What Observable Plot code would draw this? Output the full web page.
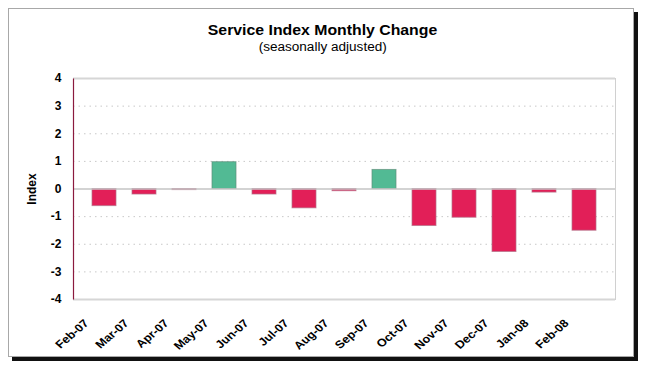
<!DOCTYPE html>
<html>
<head>
<meta charset="utf-8">
<script src="https://cdn.jsdelivr.net/npm/d3@7"></script>
<script src="https://cdn.jsdelivr.net/npm/@observablehq/plot@0.6"></script>
<style>
  html, body { margin: 0; padding: 0; background: #fff; }
  #wrap { position: relative; width: 645px; height: 369px; overflow: hidden; background: #fff;
          font-family: "Liberation Sans", Arial, sans-serif; }
  #frame { position: absolute; left: 8px; top: 8px; width: 624px; height: 347px;
           border: 1px solid #a8a8a8; background: #fff; box-shadow: 4px 4px 0 0 #111; }
  .hdr { position: absolute; left: 0; width: 645px; text-align: center; color: #000; }
  .hdr span { display: inline-block; transform: scaleX(1.13); transform-origin: center; white-space: nowrap; }
  #title { top: 22px; font-weight: bold; font-size: 14px; }
  #subtitle { top: 40px; font-size: 12px; }
  #chart { position: absolute; left: 0; top: 60px; }
</style>
</head>
<body>
<div id="wrap">
  <div id="frame"></div>
  <div id="title" class="hdr"><span>Service Index Monthly Change</span></div>
  <div id="subtitle" class="hdr"><span>(seasonally adjusted)</span></div>
  <div id="chart"></div>
</div>
<script>
const months = ["Feb-07","Mar-07","Apr-07","May-07","Jun-07","Jul-07","Aug-07","Sep-07","Oct-07","Nov-07","Dec-07","Jan-08","Feb-08"];
const values = [-0.62, -0.2, -0.04, 0.97, -0.2, -0.7, -0.08, 0.69, -1.34, -1.04, -2.28, -0.13, -1.51];
const yTicks = [-4, -3, -2, -1, 0, 1, 2, 3, 4];
const dottedTicks = [-3, -2, -1, 1, 2, 3];
const edgeTicks = [-4, 4];

const data = months.map((m, i) => ({month: m, value: values[i]}));

const W = 645, H = 309, mT = 18, mB = 70, mL = 73, mR = 30;
const fw = W - mL - mR, fh = H - mT - mB;

const chart = Plot.plot({
  width: W,
  height: H,
  marginTop: mT,
  marginBottom: mB,
  marginLeft: mL,
  marginRight: mR,
  style: {background: "transparent", fontFamily: "'Liberation Sans', Arial, sans-serif", fontSize: "11px", fontWeight: "bold", color: "#000"},
  x: {type: "band", domain: months, padding: 0.4, label: null},
  y: {domain: [-4, 4], label: null},
  marks: [
    Plot.frame({stroke: "#d0d0d0", strokeWidth: 1}),
    Plot.ruleY(dottedTicks, {stroke: "#c8c8c8", strokeDasharray: "1.5,4", strokeWidth: 1}),
    Plot.ruleY(edgeTicks, {stroke: "#d6d6d6", strokeWidth: 2}),
    Plot.barY(data, {x: "month", y: "value", fill: d => d.value >= 0 ? "#52BA94" : "#E21F58", stroke: d => d.value >= 0 ? "#5f8f7c" : "#b07088", strokeWidth: 1, strokeOpacity: 0.7}),
    Plot.ruleY([0], {stroke: "#c4c4c4", strokeWidth: 1.5}),
    // left axis line (only the left edge of the frame is stroked)
    Plot.frame({stroke: "#8B1A3E", strokeWidth: 1.2, strokeDasharray: `0 ${2 * fw + fh} ${fh} 0`}),
    Plot.axisY({ticks: yTicks, tickSize: 0, tickPadding: 12, tickFormat: d => String(d), fontSize: 12, fontWeight: "bold",
      label: "Index", labelAnchor: "center", labelArrow: "none", labelOffset: 46, ariaLabel: "y-axis"}),
    Plot.axisX({tickSize: 0, tickRotate: -45, tickPadding: 6, dx: -18, dy: 16, fontSize: 11, fontWeight: "bold", label: null, ariaLabel: "x-axis"})
  ]
});
document.getElementById("chart").appendChild(chart);

// horizontally stretch the tick text slightly, as in the reference rendering
d3.select(chart).selectAll('g[aria-label="x-axis tick label"] text').each(function() {
  const t = this.getAttribute("transform") || "";
  const m = t.match(/translate\(([^)]*)\)/);
  if (m) this.setAttribute("transform", `translate(${m[1]}) scale(1.15,1) rotate(-45)`);
});
</script>
</body>
</html>
